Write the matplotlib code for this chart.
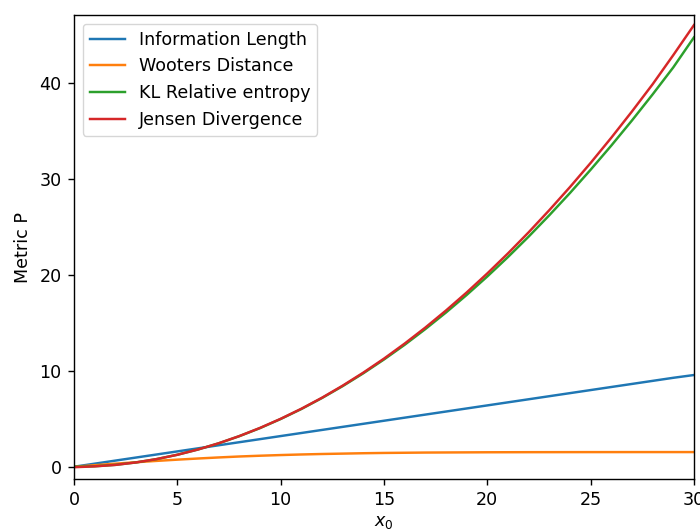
import matplotlib
matplotlib.use("Agg")
import matplotlib.pyplot as plt

x0 = [0, 1, 2, 3, 4, 5, 6, 7, 8, 9, 10, 11, 12, 13, 14, 15, 16, 17, 18, 19, 20,
      21, 22, 23, 24, 25, 26, 27, 28, 29, 30]
info_length = [0.0, 0.32, 0.64, 0.96, 1.28, 1.6, 1.92, 2.24, 2.56, 2.88, 3.2,
               3.52, 3.84, 4.16, 4.48, 4.8, 5.12, 5.44, 5.76, 6.08, 6.4,
               6.72, 7.04, 7.36, 7.68, 8.0, 8.32, 8.64, 8.96, 9.28, 9.57]
wooters = [0.0, 0.16, 0.32, 0.47, 0.61, 0.74, 0.86, 0.97, 1.07, 1.15, 1.22,
           1.28, 1.33, 1.37, 1.41, 1.44, 1.46, 1.48, 1.49, 1.50, 1.51,
           1.515, 1.52, 1.522, 1.525, 1.527, 1.528, 1.529, 1.53, 1.53, 1.53]
kl_entropy = [0.0, 0.05, 0.2, 0.45, 0.8, 1.25, 1.8, 2.44, 3.19, 4.03, 4.98,
              6.02, 7.17, 8.41, 9.75, 11.19, 12.72, 14.36, 16.09, 17.92, 19.85,
              21.88, 24.01, 26.24, 28.56, 30.99, 33.51, 36.13, 38.85, 41.67, 44.8]
jensen = [-0.05, 0.04, 0.19, 0.45, 0.8, 1.25, 1.8, 2.45, 3.2, 4.05, 5.0,
          6.05, 7.2, 8.46, 9.82, 11.28, 12.85, 14.52, 16.3, 18.18, 20.17,
          22.26, 24.46, 26.77, 29.18, 31.7, 34.33, 37.07, 39.91, 42.95, 46.08]

s = 1.26
plt.rcParams.update({
    "font.size": 10 * s,
    "axes.linewidth": 0.8 * s,
    "lines.linewidth": 1.4 * s,
    "xtick.major.size": 3.5 * s,
    "ytick.major.size": 3.5 * s,
    "xtick.major.width": 0.8 * s,
    "ytick.major.width": 0.8 * s,
    "xtick.major.pad": 3.5 * s,
    "ytick.major.pad": 3.5 * s,
    "axes.labelpad": 4.0 * s,
})

fig = plt.figure(figsize=(7.0, 5.3), dpi=100)
ax = fig.add_axes([0.1057, 0.0962, 0.8857, 0.8755])
ax.plot(x0, info_length, color="#1f77b4", label="Information Length")
ax.plot(x0, wooters, color="#ff7f0e", label="Wooters Distance")
ax.plot(x0, kl_entropy, color="#2ca02c", label="KL Relative entropy")
ax.plot(x0, jensen, color="#d62728", label="Jensen Divergence")
ax.set_xlim(0, 30)
ax.set_ylim(-1.28, 47.13)
ax.set_xlabel("$x_0$", labelpad=3)
ax.set_ylabel("Metric P")
ax.legend(loc="upper left")
fig.savefig("out.png", dpi=100)
